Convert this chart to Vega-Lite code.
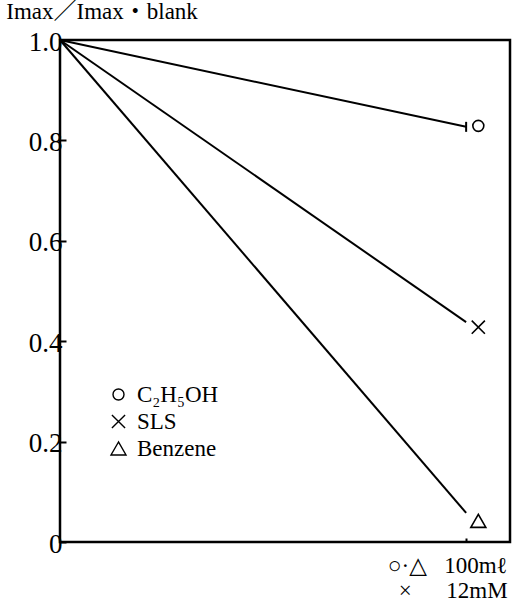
{
  "$schema": "https://vega.github.io/schema/vega-lite/v6.json",
  "autosize": "none",
  "width": 450,
  "height": 502,
  "padding": {"left": 60, "top": 40, "right": 4, "bottom": 62},
  "background": "white",
  "config": {
    "view": {"stroke": "black", "strokeWidth": 2.5},
    "font": "Liberation Serif, Noto Sans CJK JP"
  },
  "title": {
    "text": "Imax／Imax・blank",
    "anchor": "start",
    "dx": -22,
    "offset": 4,
    "font": "Liberation Serif, Noto Sans CJK JP",
    "fontSize": 23,
    "fontWeight": "normal",
    "color": "black"
  },
  "datasets": {
    "lines": [
      {"series": "C₂H₅OH", "x": 0, "y": 1.0},
      {"series": "C₂H₅OH", "x": 100, "y": 0.827},
      {"series": "SLS", "x": 0, "y": 1.0},
      {"series": "SLS", "x": 100, "y": 0.438},
      {"series": "Benzene", "x": 0, "y": 1.0},
      {"series": "Benzene", "x": 100, "y": 0.058}
    ],
    "markers": [
      {"series": "C₂H₅OH", "x": 103, "y": 0.829},
      {"series": "SLS", "x": 103, "y": 0.428},
      {"series": "Benzene", "x": 103, "y": 0.042}
    ],
    "endbar": [
      {"series": "C₂H₅OH", "x": 100, "y": 0.827}
    ]
  },
  "layer": [
    {
      "data": {"name": "lines"},
      "mark": {"type": "line", "color": "black", "strokeWidth": 2},
      "encoding": {
        "x": {
          "field": "x", "type": "quantitative",
          "scale": {"domain": [0, 110.8], "nice": false, "zero": false},
          "axis": {
            "values": [100],
            "title": null,
            "grid": false,
            "domain": false,
            "ticks": true,
            "tickSize": -4,
            "tickWidth": 2,
            "tickColor": "black",
            "labelExpr": "['○·△\u00a0\u00a0\u00a0100mℓ', '×\u00a0\u00a0\u00a0\u00a0\u00a0\u00a012mM']",
            "labelAlign": "right",
            "labelOffset": 41,
            "labelPadding": 16,
            "labelBaseline": "top",
            "labelLineHeight": 25,
            "labelFont": "Liberation Serif, DejaVu Serif",
            "labelFontSize": 23,
            "labelColor": "black",
            "labelFlush": false,
            "labelOverlap": false,
            "labelBound": false
          }
        },
        "y": {
          "field": "y", "type": "quantitative",
          "scale": {"domain": [0, 1], "nice": false, "zero": false},
          "axis": {
            "values": [0, 0.2, 0.4, 0.6, 0.8, 1.0],
            "title": null,
            "grid": false,
            "domain": false,
            "tickSize": -6,
            "tickWidth": 2,
            "tickColor": "black",
            "labelExpr": "datum.value == 0 ? '0' : format(datum.value, '.1f')",
            "labelPadding": 4,
            "labelOffset": 2,
            "labelFont": "Liberation Serif",
            "labelFontSize": 27,
            "labelColor": "black",
            "labelFlush": false,
            "labelOverlap": false,
            "labelBound": false
          }
        },
        "detail": {"field": "series"}
      }
    },
    {
      "data": {"name": "markers"},
      "mark": {"type": "point", "filled": false, "color": "black", "strokeWidth": 1.6, "opacity": 1},
      "encoding": {
        "x": {"field": "x", "type": "quantitative"},
        "y": {"field": "y", "type": "quantitative"},
        "shape": {
          "field": "series", "type": "nominal",
          "scale": {
            "domain": ["C₂H₅OH", "SLS", "Benzene"],
            "range": ["circle", "M-1,-1L1,1M1,-1L-1,1", "triangle-up"]
          },
          "legend": {
            "title": null,
            "orient": "none",
            "legendX": 47,
            "legendY": 343,
            "labelFont": "Liberation Serif, DejaVu Serif",
            "labelFontSize": 23,
            "labelColor": "black",
            "labelOffset": 7,
            "rowPadding": 3,
            "symbolStrokeColor": "black",
            "symbolFillColor": "transparent",
            "symbolStrokeWidth": 1.4
          }
        },
        "size": {
          "field": "series", "type": "nominal",
          "scale": {
            "domain": ["C₂H₅OH", "SLS", "Benzene"],
            "range": [121, 225, 484]
          }
        }
      }
    },
    {
      "data": {"name": "endbar"},
      "mark": {"type": "point", "shape": "M0,-1L0,1", "size": 100, "filled": false, "color": "black", "strokeWidth": 2, "opacity": 1},
      "encoding": {
        "x": {"field": "x", "type": "quantitative"},
        "y": {"field": "y", "type": "quantitative"}
      }
    }
  ]
}
